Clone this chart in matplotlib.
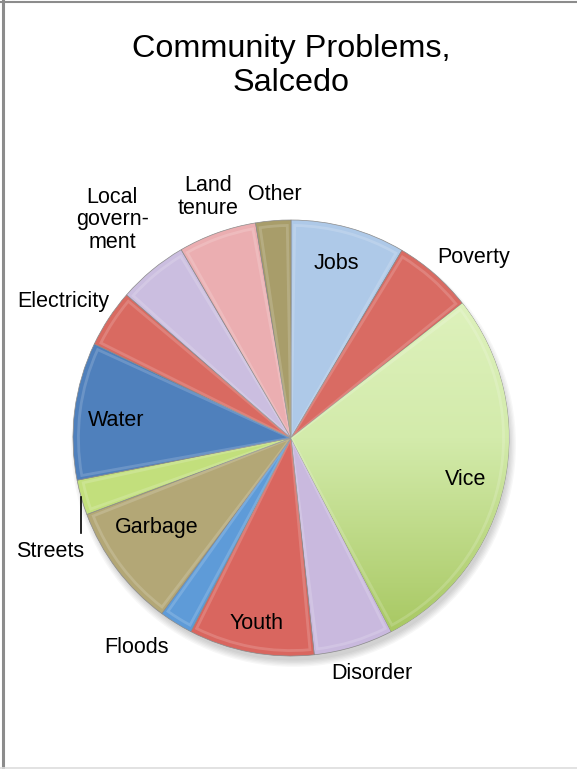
import numpy as np
import matplotlib
matplotlib.use("Agg")
from matplotlib import pyplot as plt
from matplotlib.patches import Wedge, Circle
from matplotlib.lines import Line2D
from matplotlib.colors import LinearSegmentedColormap

plt.rcParams['font.family'] = ['Liberation Sans', 'DejaVu Sans']

problems = ['Jobs', 'Poverty', 'Vice', 'Disorder', 'Youth', 'Floods', 'Garbage',
            'Streets', 'Water', 'Electricity', 'Local\ngovern-\nment',
            'Land\ntenure', 'Other']
shares = [8.5, 5.9, 28.0, 5.9, 9.3, 2.5, 9.2, 2.6, 10.2, 4.3, 5.2, 5.8, 2.6]
colours = ['#aec9e8', '#d96b63', '#c7e294', '#c9b9de', '#d9665f', '#5e9bd8',
           '#b3a776', '#c2df7c', '#4f80bc', '#d96a61', '#cbbee0', '#ebaeb1',
           '#a89d6a']

# label anchor points, in units of the pie radius
label_xy = [(0.21, 0.80), (0.84, 0.83), (0.80, -0.19), (0.37, -1.08),
            (-0.16, -0.85), (-0.71, -0.96), (-0.615, -0.41), (-1.106, -0.52),
            (-0.80, 0.08), (-1.046, 0.625), (-0.82, 1.0), (-0.38, 1.105),
            (-0.075, 1.115)]

fig = plt.figure(figsize=(5.77, 7.69), dpi=100)
R = 218.0
ax = fig.add_axes([(291 - 250) / 577, (331 - 250) / 769, 500 / 577, 500 / 769])

# soft shadow under the pie
for i in range(6):
    ax.add_patch(Circle((0.012, -0.03), 0.99 + 0.006 * i, color='black',
                        alpha=0.03, lw=0, zorder=0))

wedges, _ = ax.pie(shares, colors=colours, startangle=90, counterclock=False,
                   radius=1.0, wedgeprops=dict(linewidth=0.5, edgecolor='#8a8a8a'))

lim = 250 / R
ax.set_xlim(-lim, lim)
ax.set_ylim(-lim, lim)
ax.set_aspect('equal')
ax.axis('off')

# vertical gradient on the big slice
vice = wedges[2]
grad = np.linspace(0, 1, 256).reshape(-1, 1)
cm = LinearSegmentedColormap.from_list('vice', ['#a3c45a', '#d3ebab', '#e4f5c6'])
img = ax.imshow(grad, cmap=cm, extent=[0, 1, -1, 1], origin='lower',
                aspect='auto', zorder=2.5)
img.set_clip_path(vice)

for w in wedges:
    w.set_zorder(2)
    # bevel highlight just inside each slice edge
    hl = Wedge(w.center, 0.975, w.theta1 + 1.0, w.theta2 - 1.0,
               fill=False, edgecolor='white', linewidth=2.0, alpha=0.16, zorder=3)
    hl.set_clip_path(w)
    ax.add_patch(hl)

for name, (x, y) in zip(problems, label_xy):
    ax.text(x, y, name, ha='center', va='center', fontsize=15.5,
            linespacing=1.12, zorder=5)

# leader line for Streets
ax.add_line(Line2D([-0.963, -0.963], [-0.27, -0.436], color='black', lw=1.2, zorder=5))

fig.text(291 / 577, 1 - 66 / 769, 'Community Problems,\nSalcedo', ha='center',
         va='center', fontsize=23.3, linespacing=1.2)

# page frame
fig.add_artist(Line2D([2.5 / 577, 2.5 / 577], [0, 1], color='#8c8c8c', lw=2.2))
fig.add_artist(Line2D([0, 1], [1 - 1.5 / 769, 1 - 1.5 / 769], color='#8c8c8c', lw=1.5))
fig.add_artist(Line2D([0, 1], [1.5 / 769, 1.5 / 769], color='#dddddd', lw=1.2))

fig.savefig('out.png', dpi=100)
